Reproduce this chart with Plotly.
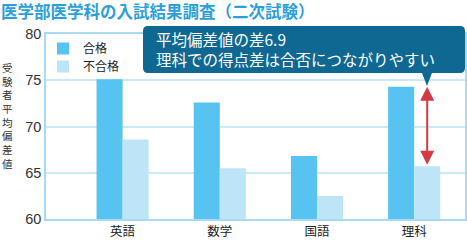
import plotly.graph_objects as go

categories = ["英語", "数学", "国語", "理科"]
passed = [75.1, 72.6, 66.8, 74.3]
failed = [68.6, 65.5, 62.5, 65.7]
series_names = ["合格", "不合格"]
y_ticks = [60, 65, 70, 75, 80]
title_text = "医学部医学科の入試結果調査（二次試験）"
y_title = "受験者平均偏差値"
callout_lines = ["平均偏差値の差6.9", "理科での得点差は合否につながりやすい"]

W, H = 467, 240
L, R, T, B = 46, 2, 34, 21
PW, PH = W - L - R, H - T - B
FONT = "Liberation Sans, Noto Sans CJK JP"
CJK = "Noto Sans CJK JP"

def px(x):
    return (x - L) / PW

def py(y):
    return (H - B - y) / PH

BARGAP = 0.464
fig = go.Figure()
fig.add_trace(go.Bar(x=categories, y=passed, name=series_names[0], legend="legend",
                     marker=dict(color="#56c3f0", line=dict(width=0))))
fig.add_trace(go.Bar(x=categories, y=failed, name=series_names[1], legend="legend2",
                     marker=dict(color="#bee4f8", line=dict(width=0))))

axis_col = "#a6dbf3"
leg_common = dict(xanchor="left", yanchor="top", bgcolor="rgba(0,0,0,0)",
                  font=dict(size=12, family=CJK, color="#222222"), tracegroupgap=0,
                  visible=True)
fig.update_layout(
    width=W, height=H,
    margin=dict(l=L, r=R, t=T, b=B, pad=0, autoexpand=False),
    paper_bgcolor="white", plot_bgcolor="white",
    showlegend=True,
    barmode="group", bargap=BARGAP, bargroupgap=0,
    font=dict(family=FONT, color="#333333"),
    title=dict(text="<b>" + title_text + "</b>", x=0.002, xanchor="left",
               xref="container", y=1 - 12 / H, yanchor="middle", yref="container",
               font=dict(size=16.5, color="#2b9fd9", family=CJK)),
    xaxis=dict(range=[-0.788, 3.523], showgrid=False, showline=True, mirror=True,
               linecolor=axis_col, linewidth=1.5, ticks="",
               automargin=False,
               tickfont=dict(size=12.5, color="#222222", family=CJK)),
    yaxis=dict(range=[60, 80], tickvals=y_ticks, showgrid=True, gridcolor="#cbeaf8",
               gridwidth=1.5, showline=True, mirror=True, linecolor=axis_col,
               linewidth=1.5, ticks="", zeroline=False, automargin=False,
               tickfont=dict(size=14.5, color="#333333")),
    legend=dict(x=px(43), y=py(34), **leg_common),
    legend2=dict(x=px(43), y=py(52), **leg_common),
)

# vertical y-axis title (stacked characters)
fig.add_annotation(text="<br>".join(y_title), xref="paper", yref="paper",
                   x=px(7.5), y=py(115), xanchor="center", yanchor="middle",
                   align="center", showarrow=False,
                   font=dict(size=10.5, color="#333333", family=CJK))

# callout box with pointer
x0, x1, y0, y1, r = 143, 465, 26, 73, 5
tip_x, tip_y = 427, 86
pts = [
    (x0 + r, y0), (x1 - r, y0), ("Q", x1, y0, x1, y0 + r), (x1, y1 - r),
    ("Q", x1, y1, x1 - r, y1), (tip_x + 5, y1), (tip_x, tip_y), (tip_x - 5, y1),
    (x0 + r, y1), ("Q", x0, y1, x0, y1 - r), (x0, y0 + r), ("Q", x0, y0, x0 + r, y0),
]
path = "M{},{}".format(px(pts[0][0]), py(pts[0][1]))
for p in pts[1:]:
    if p[0] == "Q":
        path += " Q{},{} {},{}".format(px(p[1]), py(p[2]), px(p[3]), py(p[4]))
    else:
        path += " L{},{}".format(px(p[0]), py(p[1]))
path += " Z"
fig.add_shape(type="path", path=path, xref="paper", yref="paper",
              fillcolor="#0f6891", line=dict(width=0), layer="above")
fig.add_annotation(text="<br>".join(callout_lines), xref="paper", yref="paper",
                   x=px(154), y=py(48.5), xanchor="left", yanchor="middle", align="left",
                   showarrow=False, font=dict(size=15.5, color="white", family=CJK))

# double-headed arrow for 理科 difference
idx = categories.index("理科")
off = (1 - BARGAP) / 4
fig.add_annotation(x=idx + off, y=passed[idx], ax=idx + off, ay=failed[idx],
                   xref="x", yref="y", axref="x", ayref="y", text="",
                   showarrow=True, arrowside="end+start", arrowhead=2, startarrowhead=2,
                   arrowsize=1.4, startarrowsize=1.4, arrowwidth=2, arrowcolor="#d23a46",
                   standoff=0, startstandoff=0)

fig.write_html("out.html")
